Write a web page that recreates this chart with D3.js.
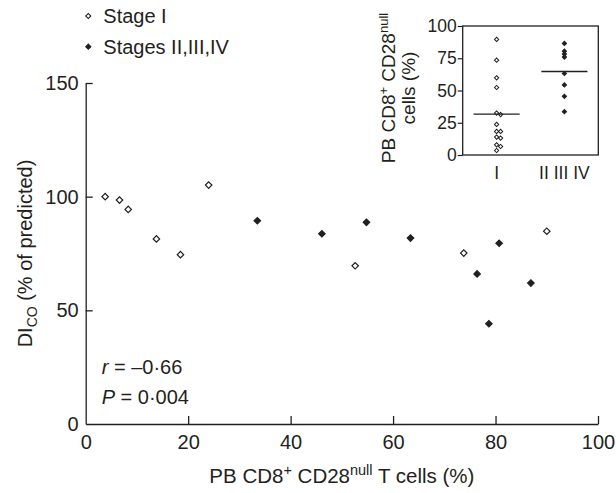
<!DOCTYPE html>
<html>
<head>
<meta charset="utf-8">
<script src="https://cdn.jsdelivr.net/npm/d3@7"></script>
<style>
  body { margin: 0; background: #fff; }
  svg text { font-family: "Liberation Sans", Arial, sans-serif; fill: #231f20; }
</style>
</head>
<body>
<div id="plot_area"></div>
<script>
// svg size
const w = 616;
const h = 493;

// main scatter: PB CD8+ CD28null T cells (%) vs DLco (% predicted)
const stageI_x = [3.8, 6.6, 8.3, 13.8, 18.5, 24.0, 52.6, 73.8, 90.0];
const stageI_y = [100.0, 98.5, 94.4, 81.4, 74.5, 105.1, 69.6, 75.2, 84.8];
const stageLate_x = [33.5, 46.1, 54.8, 63.4, 76.4, 78.7, 80.7, 86.9];
const stageLate_y = [89.4, 83.7, 88.7, 81.8, 66.0, 44.1, 79.5, 62.0];

const xTicks = [0, 20, 40, 60, 80, 100];
const yTicks = [0, 50, 100, 150];

// inset: PB CD8+ CD28null cells (%) per stage group
const insetGroups = ['I', 'II III IV'];
const insetStageI = [89.6, 73.5, 59.8, 52.3, 32.5, 31.3, 23.7, 18.3, 18.3, 13.9, 13.1, 7.9, 6.6, 3.5];
const insetStageLate = [86.5, 80.5, 78.2, 75.9, 63.2, 54.3, 45.5, 33.6];
const insetTicks = [0, 25, 50, 75, 100];

const ink = '#231f20';

const xScale = d3.scaleLinear().domain([0, 100]).range([85.7, 598]);
const yScale = d3.scaleLinear().domain([0, 150]).range([424, 83]);

const svg = d3.select('#plot_area')
              .append('svg')
              .attr('width', w)
              .attr('height', h);

// axes
const xAxis = svg.append('g')
   .attr('transform', 'translate(0,' + yScale(0) + ')')
   .call(d3.axisBottom(xScale).tickValues(xTicks).tickSize(-8).tickSizeOuter(0).tickPadding(11));

const yAxis = svg.append('g')
   .attr('transform', 'translate(' + xScale(0) + ',0)')
   .call(d3.axisLeft(yScale).tickValues(yTicks).tickSize(-7).tickSizeOuter(0).tickPadding(7));

[xAxis, yAxis].forEach(function (g) {
  g.selectAll('path, line').attr('stroke', ink).attr('stroke-width', 1.3);
  g.selectAll('text').style('font-size', '20px').attr('fill', ink);
  g.select('.domain').attr('stroke-width', 1.3);
});
// ticks that sit on the other axis are hidden
xAxis.selectAll('.tick').filter((d) => d === 0).select('line').remove();
yAxis.selectAll('.tick').filter((d) => d === 0).select('line').remove();

// axis titles
const xTitle = svg.append('text')
   .attr('x', (xScale(0) + xScale(100)) / 2)
   .attr('y', 483)
   .attr('text-anchor', 'middle')
   .style('font-size', '20.5px');
xTitle.append('tspan').text('PB CD8');
xTitle.append('tspan').attr('dy', -8).style('font-size', '14.5px').text('+');
xTitle.append('tspan').attr('dy', 8).text(' CD28');
xTitle.append('tspan').attr('dy', -8).style('font-size', '14.5px').text('null');
xTitle.append('tspan').attr('dy', 8).text(' T cells (%)');

const yTitle = svg.append('text')
   .attr('text-anchor', 'middle')
   .attr('transform', 'translate(32,' + (yScale(0) + yScale(150)) / 2 + ')rotate(-90)')
   .style('font-size', '20px');
yTitle.append('tspan').text('DI');
yTitle.append('tspan').attr('dy', 5).style('font-size', '14px').text('CO');
yTitle.append('tspan').attr('dy', -5).text(' (% of predicted)');

// points
const diamond = (size) => d3.symbol().type(d3.symbolSquare).size(size);

function drawPoints(xs, ys, filled) {
  svg.selectAll(null)
     .data(xs.map((x, i) => [x, ys[i]]))
     .enter()
     .append('path')
     .attr('d', diamond(21)())
     .attr('transform', (d) => 'translate(' + xScale(d[0]) + ',' + yScale(d[1]) + ')rotate(45)')
     .attr('fill', filled ? ink : '#fff')
     .attr('stroke', ink)
     .attr('stroke-width', 1.2);
}
drawPoints(stageI_x, stageI_y, false);
drawPoints(stageLate_x, stageLate_y, true);

// stats text
const rText = svg.append('text').attr('x', 101.7).attr('y', 374).style('font-size', '20px');
rText.append('tspan').style('font-style', 'italic').text('r');
rText.append('tspan').text(' = \u20130\u00b766');
const pText = svg.append('text').attr('x', 101.7).attr('y', 404).style('font-size', '20px');
pText.append('tspan').style('font-style', 'italic').text('P');
pText.append('tspan').text(' = 0\u00b7004');

// legend
const legendItems = ['Stage I', 'Stages II,III,IV'];
const legend = svg.selectAll('.legend')
   .data(legendItems)
   .enter()
   .append('g')
   .attr('transform', (d, i) => 'translate(88.3,' + (16 + i * 30.7) + ')');
legend.append('path')
   .attr('d', diamond(13)())
   .attr('transform', 'rotate(45)')
   .attr('fill', (d, i) => i === 0 ? '#fff' : ink)
   .attr('stroke', ink)
   .attr('stroke-width', 1.1);
legend.append('text')
   .attr('x', 15)
   .attr('y', 6.9)
   .style('font-size', '20px')
   .text((d) => d);

// inset
const ix = d3.scaleBand().domain(insetGroups).range([462.7, 598.3]);
const iy = d3.scaleLinear().domain([0, 100]).range([155, 26]);

const inset = svg.append('g');
inset.append('rect')
   .attr('x', ix.range()[0])
   .attr('y', iy(100))
   .attr('width', ix.range()[1] - ix.range()[0])
   .attr('height', iy(0) - iy(100))
   .attr('fill', 'none')
   .attr('stroke', ink)
   .attr('stroke-width', 1.3);

const iyAxis = inset.append('g')
   .attr('transform', 'translate(' + ix.range()[0] + ',0)')
   .call(d3.axisLeft(iy).tickValues(insetTicks).tickSize(5).tickSizeOuter(0).tickPadding(1));
iyAxis.select('.domain').remove();
iyAxis.selectAll('line').attr('stroke', ink).attr('stroke-width', 1.2);
iyAxis.selectAll('text').style('font-size', '17.5px').attr('fill', ink);

inset.selectAll('.cat')
   .data(insetGroups)
   .enter()
   .append('text')
   .attr('x', (d) => ix(d) + ix.bandwidth() / 2)
   .attr('y', 179.3)
   .attr('text-anchor', 'middle')
   .style('font-size', '17.5px')
   .text((d) => d);

// simple dodge so points with nearly equal values sit side by side
function dodge(values) {
  const sorted = values.slice().sort((a, b) => b - a);
  let prev = null, off = 0;
  return sorted.map(function (v) {
    off = (prev !== null && prev - v < 2) ? off + 4 : 0;
    prev = v;
    return [v, off];
  });
}

[insetStageI, insetStageLate].forEach(function (vals, gi) {
  const cx = ix(insetGroups[gi]) + ix.bandwidth() / 2;
  inset.selectAll(null)
     .data(dodge(vals))
     .enter()
     .append('path')
     .attr('d', diamond(9)())
     .attr('transform', (d) => 'translate(' + (cx + d[1]) + ',' + iy(d[0]) + ')rotate(45)')
     .attr('fill', gi === 0 ? '#fff' : ink)
     .attr('stroke', ink)
     .attr('stroke-width', 1);

  const m = d3.mean(vals);
  inset.append('line')
     .attr('x1', cx - ix.bandwidth() * 0.34)
     .attr('x2', cx + ix.bandwidth() * 0.34)
     .attr('y1', iy(m))
     .attr('y2', iy(m))
     .attr('stroke', ink)
     .attr('stroke-width', 1.3);
});

const iTitle = inset.append('text')
   .attr('text-anchor', 'middle')
   .attr('transform', 'translate(395,88)rotate(-90)')
   .style('font-size', '19px');
iTitle.append('tspan').text('PB CD8');
iTitle.append('tspan').attr('dy', -7).style('font-size', '13px').text('+');
iTitle.append('tspan').attr('dy', 7).text(' CD28');
iTitle.append('tspan').attr('dy', -7).style('font-size', '13px').text('null');
inset.append('text')
   .attr('text-anchor', 'middle')
   .attr('transform', 'translate(415,88)rotate(-90)')
   .style('font-size', '19px')
   .text('cells (%)');
</script>
</body>
</html>
